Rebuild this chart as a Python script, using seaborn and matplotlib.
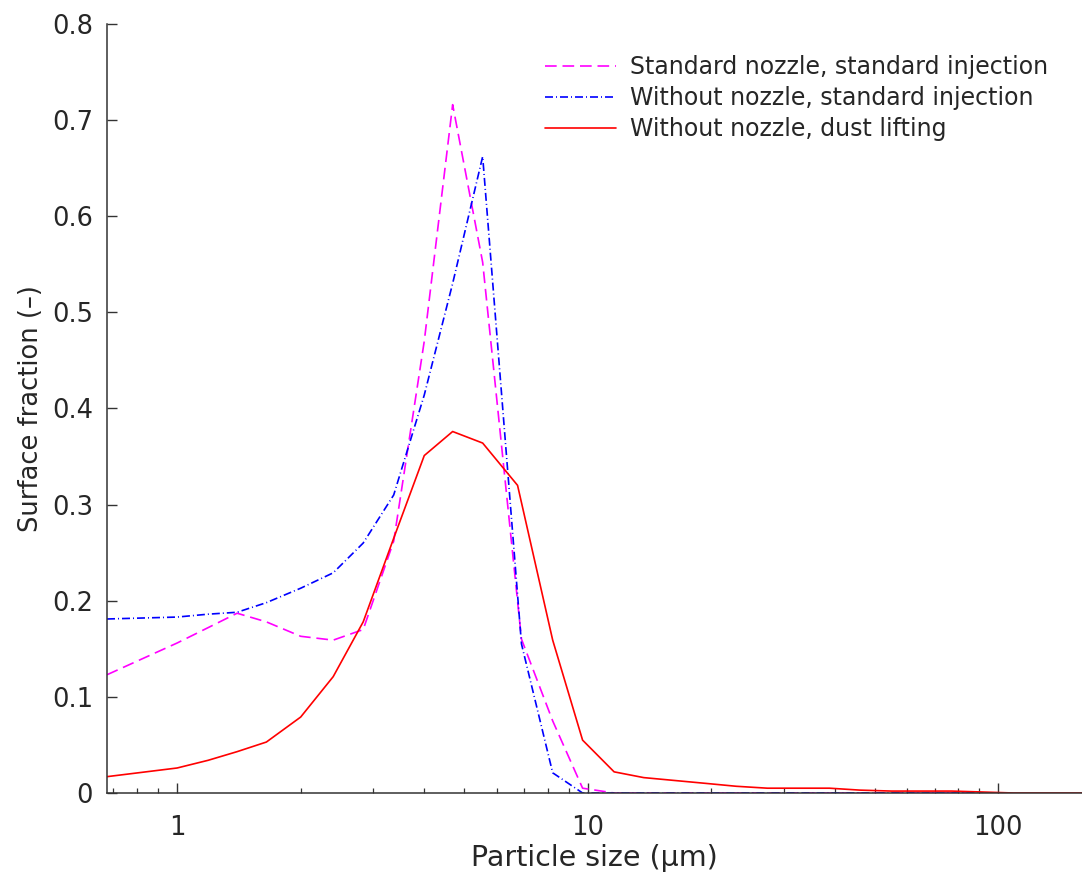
import matplotlib
matplotlib.use("Agg")
import matplotlib.pyplot as plt
import numpy as np
import pandas as pd
import seaborn as sns

# particle sizes (um)
size_std = [0.675, 1.0, 1.19, 1.40, 1.65, 2.0, 2.4, 2.84, 3.37, 4.0, 4.69, 5.55,
            6.9, 8.22, 9.72, 11.6, 20.0, 40.0, 92.0]
frac_std = [0.123, 0.156, 0.172, 0.187, 0.178, 0.163, 0.159, 0.170, 0.262, 0.470,
            0.716, 0.552, 0.160, 0.075, 0.005, 0.0, 0.0, 0.0, 0.0]

size_nozzle = [0.675, 1.0, 1.19, 1.40, 1.65, 2.0, 2.4, 2.84, 3.37, 4.0, 4.69, 5.55,
               6.9, 8.22, 9.72, 11.6, 20.0, 40.0, 92.0]
frac_nozzle = [0.181, 0.183, 0.186, 0.188, 0.198, 0.213, 0.229, 0.260, 0.310, 0.414,
               0.530, 0.662, 0.155, 0.021, 0.0, 0.0, 0.0, 0.0, 0.0]

size_dust = [0.675, 1.0, 1.19, 1.40, 1.65, 2.0, 2.4, 2.84, 3.37, 4.0, 4.69, 5.55,
             6.75, 8.22, 9.72, 11.6, 13.7, 16.3, 19.4, 23.0, 27.4, 32.6, 38.8, 46.0,
             55.0, 65.0, 77.0, 92.0, 109.0, 130.0, 160.0]
frac_dust = [0.017, 0.026, 0.034, 0.043, 0.053, 0.079, 0.121, 0.178, 0.265, 0.351,
             0.376, 0.364, 0.320, 0.159, 0.055, 0.022, 0.016, 0.013, 0.010, 0.007,
             0.005, 0.005, 0.005, 0.003, 0.002, 0.002, 0.002, 0.001, 0.0, 0.0, 0.0]

labels = ["Standard nozzle, standard injection",
          "Without nozzle, standard injection",
          "Without nozzle, dust lifting"]

sns.set_style("ticks")
plt.rcParams['font.family'] = ['DejaVu Sans']

fig = plt.figure(figsize=(10.82, 8.72), dpi=100)
ax = fig.add_axes([0.0989, 0.0906, 0.9011, 0.882])

sns.lineplot(x=size_std, y=frac_std, ax=ax, color="#ff00ff", lw=1.2,
             linestyle=(0, (7, 3.5)), label=labels[0], sort=False)
sns.lineplot(x=size_nozzle, y=frac_nozzle, ax=ax, color="#0000ff", lw=1.2,
             linestyle=(0, (4.8, 1.8, 0.6, 1.8)), label=labels[1], sort=False)
sns.lineplot(x=size_dust, y=frac_dust, ax=ax, color="#ff0000", lw=1.2,
             linestyle="-", label=labels[2], sort=False)

ax.set_xscale("log")
ax.set_xlim(0.675, 160)
ax.set_ylim(0, 0.8)
ax.set_yticks(np.arange(0, 0.81, 0.1))
ax.set_yticklabels(["0", "0.1", "0.2", "0.3", "0.4", "0.5", "0.6", "0.7", "0.8"])
ax.set_xticks([1, 10, 100])
ax.set_xticklabels(["1", "10", "100"])

ax.tick_params(which="major", direction="in", length=7, width=1, colors="#333333",
               labelsize=18.5, labelcolor="#262626")
ax.tick_params(axis="x", which="major", pad=16)
ax.tick_params(axis="y", which="major", pad=10)
ax.tick_params(which="minor", direction="in", length=3.5, width=0.9, colors="#333333")
ax.tick_params(axis="y", which="minor", left=False)
for s in ["left", "bottom"]:
    ax.spines[s].set_color("#333333")
    ax.spines[s].set_linewidth(1.1)
sns.despine(ax=ax)

ax.set_xlabel("Particle size (μm)", fontsize=20.5, color="#262626", labelpad=2)
ax.set_ylabel("Surface fraction (–)", fontsize=18.5, color="#262626", labelpad=6)

ax.legend(loc="upper right", bbox_to_anchor=(0.975, 0.972), frameon=False,
          fontsize=17, handlelength=3.0, handletextpad=0.6, labelspacing=0.3,
          borderaxespad=0)

fig.savefig("out.png", dpi=100)
